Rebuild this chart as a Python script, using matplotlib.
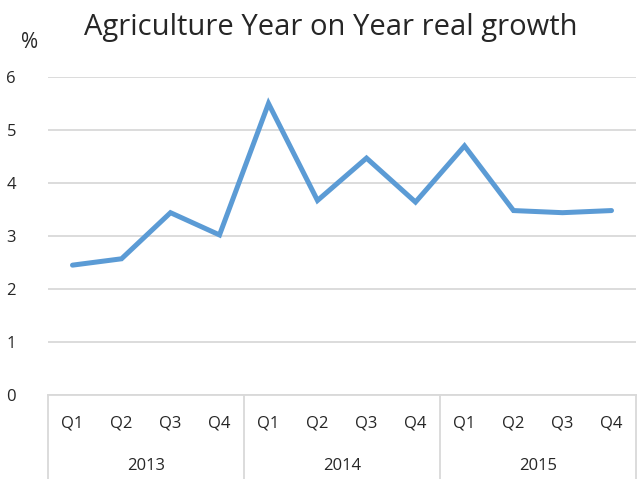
import matplotlib
matplotlib.use("Agg")
import matplotlib.pyplot as plt

years = ["2013", "2014", "2015"]
quarters = ["Q1", "Q2", "Q3", "Q4"]
growth = [2.45, 2.57, 3.44, 3.02, 5.50, 3.67, 4.47, 3.64, 4.70, 3.48, 3.44, 3.48]
y_ticks = [0, 1, 2, 3, 4, 5, 6]

plt.rcParams['font.family'] = ['Open Sans', 'DejaVu Sans']
TXT = '#262626'
GRID = '#D9D9D9'

fig = plt.figure(figsize=(6.43, 4.79), dpi=100)
ax = fig.add_axes([48/643, 1-395/479, (636-48)/643, (395-77)/479])

n = len(growth)
x = list(range(n))
ax.plot(x, growth, color='#5B9BD5', lw=3.6, solid_joinstyle='miter', solid_capstyle='round', zorder=3)

ax.set_xlim(-0.5, n - 0.5)
ax.set_ylim(0, 6)
ax.set_yticks(y_ticks)
ax.set_yticklabels([str(t) for t in y_ticks], fontsize=12, color=TXT)
ax.tick_params(axis='y', length=0, pad=23)
ax.yaxis.grid(True, color=GRID, lw=1.3)
ax.set_axisbelow(True)
for s in ax.spines.values():
    s.set_visible(False)
ax.set_xticks([])

ax_h = 395 - 77
trans = ax.get_xaxis_transform()
ax.plot([-0.5, n - 0.5], [0, 0], color=GRID, lw=1.3, transform=trans, clip_on=False)
for i in range(len(years) + 1):
    xv = -0.5 + i * len(quarters)
    ax.plot([xv, xv], [0, -(479 - 395) / ax_h], color=GRID, lw=1.3, transform=trans, clip_on=False)
for i in range(n):
    ax.text(i, -28 / ax_h, quarters[i % 4], transform=trans, ha='center', va='center', fontsize=12, color=TXT)
for j, yr in enumerate(years):
    ax.text(j * 4 + 1.5, -71 / ax_h, yr, transform=trans, ha='center', va='center', fontsize=12, color=TXT)

fig.text(331/643, 1-28/479, "Agriculture Year on Year real growth", ha='center', va='center', fontsize=21, color=TXT)
fig.text(30/643, 1-42/479, "%", ha='center', va='center', fontsize=15, color=TXT)

fig.savefig("out.png", dpi=100)
